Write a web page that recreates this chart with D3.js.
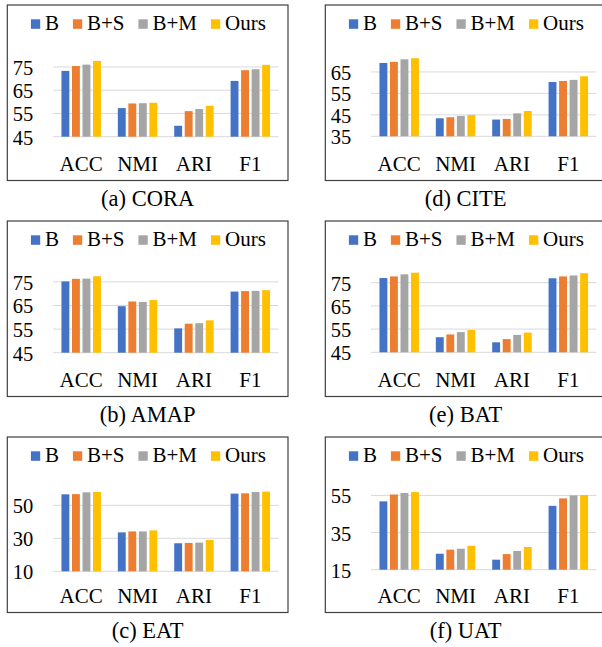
<!DOCTYPE html>
<html>
<head>
<meta charset="utf-8">
<script src="https://cdn.jsdelivr.net/npm/d3@7"></script>
<style>
  body { margin: 0; background: #fff; }
  text { font-family: "Liberation Serif", "Times New Roman", serif; fill: #000; }
</style>
</head>
<body>
<div id="container"></div>
<script>
// metrics and methods
const metrics = ["ACC", "NMI", "ARI", "F1"];
const methods = ["B", "B+S", "B+M", "Ours"];
const colors = ["#4472C4", "#ED7D31", "#A5A5A5", "#FFC000"];

// values per dataset, rows = metric, cols = method
const cora = [[73.3, 75.4, 76.0, 77.6], [57.3, 59.3, 59.4, 59.6], [49.7, 56.0, 56.9, 58.3], [69.0, 73.6, 74.0, 75.9]];
const amap = [[75.2, 76.3, 76.4, 77.4], [64.7, 66.7, 66.5, 67.3], [55.3, 57.3, 57.5, 58.7], [70.9, 71.1, 71.2, 71.5]];
const eat  = [[56.7, 56.8, 57.9, 58.1], [33.6, 34.2, 34.2, 34.8], [27.0, 27.2, 27.4, 29.0], [57.1, 57.3, 58.1, 58.3]];
const cite = [[69.2, 69.7, 70.9, 71.4], [43.4, 43.9, 44.5, 44.9], [42.8, 43.1, 45.7, 46.8], [60.3, 60.8, 61.3, 63.0]];
const bat  = [[77.0, 77.7, 78.6, 79.3], [51.5, 52.7, 53.7, 54.6], [49.3, 50.7, 52.5, 53.5], [76.9, 77.7, 78.1, 79.1]];
const uat  = [[51.8, 55.5, 56.3, 56.8], [23.6, 25.8, 26.3, 27.9], [20.4, 23.4, 25.1, 27.2], [49.4, 53.4, 55.0, 55.2]];

// tick labels
const coraTicks = [45, 55, 65, 75];
const amapTicks = [45, 55, 65, 75];
const eatTicks  = [10, 30, 50];
const citeTicks = [35, 45, 55, 65];
const batTicks  = [45, 55, 65, 75];
const uatTicks  = [15, 35, 55];

const captions = ["(a) CORA", "(b) AMAP", "(c) EAT", "(d) CITE", "(e) BAT", "(f) UAT"];

// layout
const boxw = 280.7
const boxh = 175.5
const plotx = 45.7
const plotw = 225.5
const plottop = 38

const panels = [
  {data: cora, ticks: coraTicks, cap: captions[0], x: 7.3,   y: 5,   bottom: 131.7, ymin: 45, ymax: 85.3},
  {data: amap, ticks: amapTicks, cap: captions[1], x: 7.3,   y: 221, bottom: 131.7, ymin: 45, ymax: 84.7},
  {data: eat,  ticks: eatTicks,  cap: captions[2], x: 7.3,   y: 437, bottom: 134.3, ymin: 10, ymax: 68.4},
  {data: cite, ticks: citeTicks, cap: captions[3], x: 325.3, y: 5,   bottom: 131.3, ymin: 35, ymax: 78.5},
  {data: bat,  ticks: batTicks,  cap: captions[4], x: 325.3, y: 221, bottom: 131.3, ymin: 45, ymax: 85.2},
  {data: uat,  ticks: uatTicks,  cap: captions[5], x: 325.3, y: 437, bottom: 132.7, ymin: 15, ymax: 66}
];

const svg = d3.select("#container").append("svg").attr("width", 602).attr("height", 647);

function drawPanel(p) {
  const g = svg.append("g").attr("transform", `translate(${p.x},${p.y})`);

  g.append("rect")
    .attr("x", 0).attr("y", 0)
    .attr("width", boxw).attr("height", boxh)
    .attr("fill", "none").attr("stroke", "#404040").attr("stroke-width", 1.2);

  const x0 = d3.scaleBand().domain(metrics).range([plotx, plotx + plotw]).paddingInner(0.3).paddingOuter(0.15);
  const x1 = d3.scaleBand().domain(methods).range([0, x0.bandwidth()]).paddingInner(0.25);
  const y = d3.scaleLinear().domain([p.ymin, p.ymax]).range([p.bottom, plottop]);

  // gridlines
  g.selectAll(".grid").data(p.ticks).enter().append("line")
    .attr("x1", plotx).attr("x2", plotx + plotw)
    .attr("y1", d => y(d)).attr("y2", d => y(d))
    .attr("stroke", "#d9d9d9").attr("stroke-width", 1);

  // tick labels
  g.selectAll(".tick").data(p.ticks).enter().append("text")
    .attr("x", plotx - 19.7).attr("y", d => y(d) + 8)
    .attr("text-anchor", "end").style("font-size", "20.5px")
    .text(d => d);

  // bars
  const groups = g.selectAll(".grp").data(p.data).enter().append("g")
    .attr("transform", (d, i) => `translate(${x0(metrics[i])},0)`);
  groups.selectAll("rect").data(d => d).enter().append("rect")
    .attr("x", (d, j) => x1(methods[j]))
    .attr("width", x1.bandwidth())
    .attr("y", d => y(d))
    .attr("height", d => y(p.ymin) - y(d))
    .attr("fill", (d, j) => colors[j]);

  // category labels
  g.selectAll(".cat").data(metrics).enter().append("text")
    .attr("x", d => x0(d) + x0.bandwidth() / 2).attr("y", 166)
    .attr("text-anchor", "middle").style("font-size", "21px")
    .text(d => d);

  // legend
  const lg = g.append("g");
  let lx = 0;
  methods.forEach((m, j) => {
    lg.append("rect").attr("x", lx).attr("y", 14.3).attr("width", 9.3).attr("height", 9.5).attr("fill", colors[j]);
    const t = lg.append("text").attr("x", lx + 14).attr("y", 25).style("font-size", "21px").text(m);
    lx += 14 + t.node().getComputedTextLength() + 14;
  });
  lx -= 14;
  lg.attr("transform", `translate(${(boxw - lx) / 2 + 0.7},0)`);

  // caption
  g.append("text")
    .attr("x", boxw / 2).attr("y", 200.5)
    .attr("text-anchor", "middle").style("font-size", "22.5px")
    .text(p.cap);
}

panels.forEach(drawPanel);
</script>
</body>
</html>
